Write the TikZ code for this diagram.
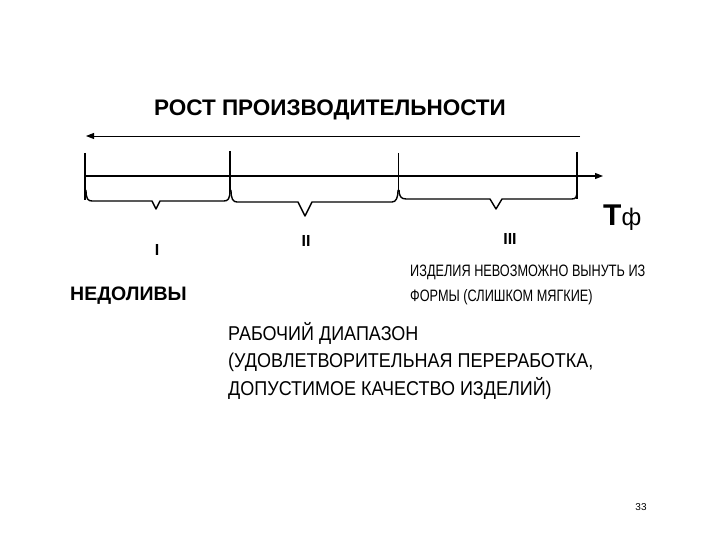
\documentclass[tikz,border=0pt]{standalone}
\usepackage{fontspec}
\setmainfont{Liberation Sans}
\newfontfamily\cond[FakeStretch=0.9]{Liberation Sans}
\newfontfamily\condb[FakeStretch=0.77]{Liberation Sans}
\usetikzlibrary{arrows.meta}
\begin{document}
\begin{tikzpicture}[x=1pt,y=-1pt,
  ln/.style={line width=1.2pt,black},
  brc/.style={line width=1.4pt,line join=round},
  rom/.style={font=\rmfamily\bfseries\fontsize{16}{16}\selectfont,inner sep=0pt},
  ttl/.style={inner sep=0pt,font=\bfseries\fontsize{22.5}{24}\selectfont}]
\useasboundingbox (0,0) rectangle (720,540);
% title and arrow
\node[ttl] (title) at (330,110) {РОСТ ПРОИЗВОДИТЕЛЬНОСТИ};
\coordinate (ar) at (580,136);
\coordinate (al) at (86,136);
\draw[ln,line width=0.9pt,-{Triangle[length=8pt,width=6pt]}] (ar) -- (al);
% ticks
\coordinate (t1a) at (85,153); \coordinate (t1b) at (85,200);
\coordinate (t2a) at (230,151); \coordinate (t2b) at (230,192);
\coordinate (t3a) at (398,153); \coordinate (t3b) at (398,192);
\coordinate (t4a) at (577,152); \coordinate (t4b) at (577,199);
\draw[ln] (t1a) -- (t1b);
\draw[ln] (t2a) -- (t2b);
\draw[ln,line width=0.9pt] (t3a) -- (t3b);
\draw[ln] (t4a) -- (t4b);
% axis
\coordinate (x0) at (85,176);
\coordinate (x1) at (603,176);
\draw[ln,-{Triangle[length=8pt,width=6pt]}] (x0) -- (x1);
% braces
\draw[brc] (86,190) .. controls (86,199) and (88,201) .. (92,201) -- (152,201) -- (156,209) -- (160,201) -- (224,201) .. controls (228,201) and (230,199) .. (230,190);
\draw[brc] (231,190) .. controls (231,199) and (233,202) .. (237,202) -- (298,202) -- (305,216) -- (312,202) -- (392,202) .. controls (396,202) and (398,198) .. (398,190);
\draw[brc] (399,190) .. controls (399,196) and (401,199) .. (406,199) -- (490,199) -- (496,209) -- (502,199) -- (572,199) .. controls (576,199) and (577,197) .. (577,190);
% roman labels
\node[rom] (r1) at (157,250) {I};
\node[rom] (r2) at (306,241) {II};
\node[rom] (r3) at (510,239) {III};
% T phi
\node[inner sep=0pt,anchor=west] (tf) at (603,218) {\bfseries\fontsize{30}{30}\selectfont Т\fontsize{24}{24}\selectfont\mdseries ф};
% labels
\node[ttl,font=\bfseries\fontsize{19.5}{22}\selectfont,anchor=west] (ned) at (70,296) {НЕДОЛИВЫ};
\node[inner sep=0pt,align=left,anchor=north west,font=\condb\fontsize{16.5}{25}\selectfont] (izd) at (410,265) {ИЗДЕЛИЯ НЕВОЗМОЖНО ВЫНУТЬ ИЗ\\ФОРМЫ (СЛИШКОМ МЯГКИЕ)};
\node[inner sep=0pt,align=left,anchor=north west,font=\cond\fontsize{20}{27.5}\selectfont] (rab) at (228,322) {РАБОЧИЙ ДИАПАЗОН\\(УДОВЛЕТВОРИТЕЛЬНАЯ ПЕРЕРАБОТКА,\\ДОПУСТИМОЕ КАЧЕСТВО ИЗДЕЛИЙ)};
\node[inner sep=0pt,font=\fontsize{10}{10}\selectfont] (pg) at (641,507) {33};
\end{tikzpicture}
\end{document}
